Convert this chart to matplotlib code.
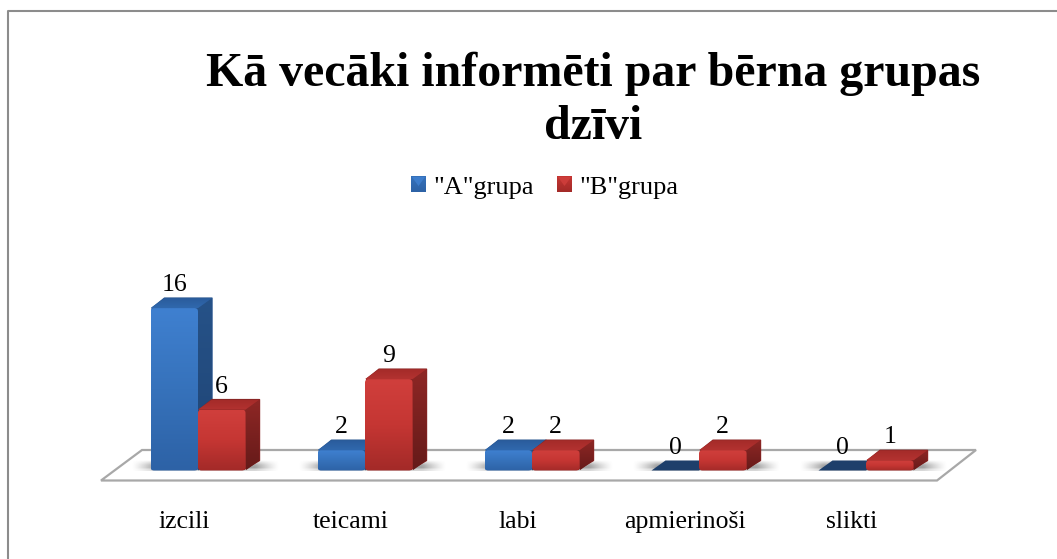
import numpy as np
import matplotlib
matplotlib.use("Agg")
import matplotlib.pyplot as plt
from matplotlib.colors import LinearSegmentedColormap
from matplotlib.patches import Polygon, FancyBboxPatch

# data
categories = ["izcili", "teicami", "labi", "apmierinoši", "slikti"]
grupa_a = [16, 2, 2, 0, 0]
grupa_b = [6, 9, 2, 2, 1]
series_names = ['"A"grupa', '"B"grupa']
title = "Kā vecāki informēti par bērna grupas\ndzīvi"

W, H = 1057, 559
PX_X0, PX_GROUP = 198.0, 167.0   # pixel x of group 0 centre, group spacing
PX_Y0, PX_UNIT = 470.5, 10.15    # pixel y of value 0, pixels per value

plt.rcParams["font.family"] = ["Liberation Serif", "DejaVu Serif"]

fig = plt.figure(figsize=(W / 100, H / 100), dpi=100)
ax = fig.add_axes([0, 0, 1, 1])
ax.set_xlim(-PX_X0 / PX_GROUP, (W - PX_X0) / PX_GROUP)
ax.set_ylim((PX_Y0 - H) / PX_UNIT, PX_Y0 / PX_UNIT)
ax.set_axis_off()
ax.set_aspect("auto")

# sizes in pixels turned into data units
BAR_W = 47.5 / PX_GROUP
DX = 14.0 / PX_GROUP
DY = 10.0 / PX_UNIT


def px(x, y):
    return ((x - PX_X0) / PX_GROUP, (PX_Y0 - y) / PX_UNIT)


def gradient(verts, colors, vertical=True, z=3, rounded=False):
    """Polygon or rounded box filled with a gradient through imshow."""
    xs, ys = zip(*verts)
    n = 64
    t = np.linspace(0, 1, n)
    data = t[:, None] if vertical else t[None, :]
    cmap = LinearSegmentedColormap.from_list("g", colors)
    im = ax.imshow(data, extent=(min(xs), max(xs), min(ys), max(ys)), origin="upper",
                   cmap=cmap, aspect="auto", zorder=z, interpolation="bilinear")
    if rounded:
        rad = 3.5 / PX_GROUP
        clip = FancyBboxPatch((min(xs) + rad, min(ys) + rad * PX_GROUP / PX_UNIT),
                              max(xs) - min(xs) - 2 * rad,
                              max(ys) - min(ys) - 2 * rad * PX_GROUP / PX_UNIT,
                              boxstyle=f"round,pad={rad},rounding_size={rad}",
                              mutation_aspect=PX_GROUP / PX_UNIT,
                              transform=ax.transData, fc="none", ec="none")
    else:
        clip = Polygon(verts, closed=True, transform=ax.transData, fc="none", ec="none")
    ax.add_patch(clip)
    im.set_clip_path(clip)


def shadow(x0, x1):
    # soft grey band on the floor around the foot of a bar group
    y0 = 0.0
    y1 = DY * 1.15
    n = 80
    tx = np.linspace(0, 1, n)
    fade = np.clip(np.minimum(tx, 1 - tx) / 0.16, 0, 1) ** 1.3
    rgba = np.zeros((5, n, 4))
    rgba[..., :3] = 0.38
    rgba[..., 3] = fade[None, :] * np.array([0.0, 0.3, 0.55, 0.6, 0.25])[:, None]
    ax.imshow(rgba, extent=(x0, x1, y0, y1), origin="upper", aspect="auto",
              zorder=2, interpolation="bilinear")


BLUE = dict(front=["#3f80d0", "#3672bb", "#2d62a6"], side=["#265288", "#1f4474"], top=["#2a5c9c", "#3068ad"],
            edge="#27548e")
RED = dict(front=["#d03f3c", "#c53633", "#a32a28"], side=["#8e2725", "#651a19"], top=["#a42b29", "#b33230"],
           edge="#8a2524")


def bar3d(x0, val, col, z):
    x1 = x0 + BAR_W
    if val == 0:
        ax.add_patch(Polygon([(x0, 0), (x1, 0), (x1 + DX, DY), (x0 + DX, DY)], closed=True,
                             fc="#1e3f6b", ec="none", zorder=z))
        return
    # silhouette under the faces, round joins soften the back corners
    inset = 1.5 / PX_GROUP
    ax.add_patch(Polygon([(x0 + inset, val), (x0 + DX, val + DY), (x1 + DX, val + DY), (x1 + DX, DY), (x1 - inset, 0.1)],
                         closed=True, fc=col["edge"], ec=col["edge"], lw=1.0, joinstyle="round", zorder=z))
    gradient([(x1, 0), (x1 + DX, DY), (x1 + DX, val + DY), (x1, val)], col["side"], z=z + 0.01)
    gradient([(x0, val), (x1, val), (x1 + DX, val + DY), (x0 + DX, val + DY)], col["top"], z=z + 0.01)
    gradient([(x0, 0), (x1, 0), (x1, val), (x0, val)], col["front"], z=z + 0.1, rounded=True)


# frame only shows on the top and the left, and runs off the image
ax.plot(*zip(px(8, H + 2), px(8, 11), px(W + 2, 11)), color="#8c8c8c", lw=1.5, zorder=0.5)

# floor
floor = [px(101, 480.5), px(142, 450), px(976, 450), px(937, 480.5)]
ax.add_patch(Polygon(floor, closed=True, fc="white", ec="#a8a8a8", lw=1.6, zorder=1))

for i in range(len(categories)):
    shadow(i - BAR_W - 20 / PX_GROUP, i + BAR_W + DX + 20 / PX_GROUP)
    # blue first, the red one stands in front of it
    bar3d(i - BAR_W, grupa_a[i], BLUE, 3 + i)
    bar3d(i, grupa_b[i], RED, 3.5 + i)
    # value labels
    ax.text(i - BAR_W / 2, grupa_a[i] + DY + 2 / PX_UNIT, str(grupa_a[i]), ha="center", va="bottom",
            fontsize=18.5, color="black", zorder=20)
    ax.text(i + BAR_W / 2, grupa_b[i] + DY + 2 / PX_UNIT, str(grupa_b[i]), ha="center", va="bottom",
            fontsize=18.5, color="black", zorder=20)
    ax.text(i - 14 / PX_GROUP, px(0, 522)[1], categories[i], ha="center", va="center", fontsize=18.5, zorder=20)

# title
ax.text(*px(593.5, 100), title, ha="center", va="center", fontsize=34.5, fontweight="bold",
        linespacing=1.27, zorder=20)

# legend
for name, col, sq, tx in zip(series_names, (BLUE, RED), (411, 557), (433, 579)):
    c = col["front"]
    gradient([px(sq, 192), px(sq + 15, 192), px(sq + 15, 176), px(sq, 176)], [c[1], c[2]], z=10)
    ax.add_patch(Polygon([px(sq + 1, 177), px(sq + 14, 177), px(sq + 7.5, 186)], closed=True,
                         fc=c[0], ec="none", alpha=0.85, zorder=11))
    ax.text(*px(tx, 188), name, ha="left", va="center", fontsize=19, zorder=20)

fig.savefig("out.png", dpi=100)
plt.close(fig)
